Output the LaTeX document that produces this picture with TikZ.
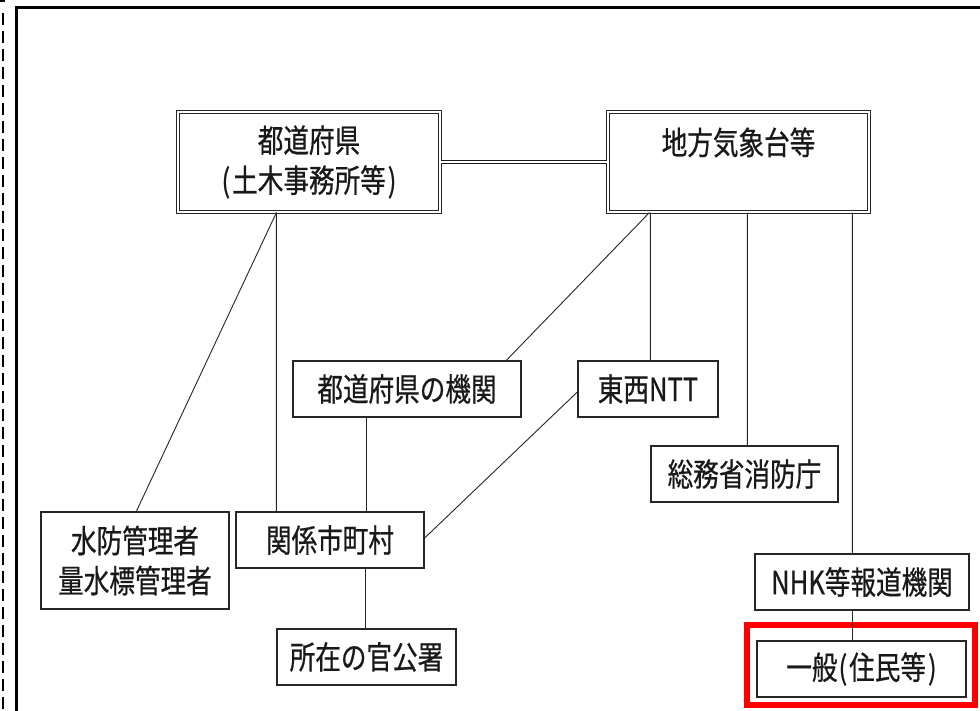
\documentclass[tikz,border=0pt]{standalone}
\usepackage{fontspec}
\newfontfamily\jp[FakeStretch=0.8,FakeBold=0.6]{Noto Sans CJK JP}
\begin{document}
\begin{tikzpicture}[x=1pt,y=-1pt,
  box/.style={draw=black!85, line width=1.3pt, inner sep=0pt, align=center,
    font=\jp\fontsize{32}{40}\selectfont, text=black!90},
  dbox/.style={box, double, double distance=1.6pt, line width=1.2pt},
  link/.style={draw=black!85, line width=0.9pt},
  dlink/.style={draw=black!90, double, double distance=1.6pt, line width=1.3pt}]
\useasboundingbox (0,0) rectangle (980,711);
\clip (0,0) rectangle (980,711);
\fill[white] (0,0) rectangle (980,711);
% frame
\draw[line width=3pt] (16,720) -- (16,7.5) -- (995,7.5);
\draw[line width=1.2pt, dash pattern=on 12pt off 6pt] (3,13) -- (3,711);
\draw[line width=2pt] (0,1) -- (5,1);
% nodes
\node[dbox, minimum width=262, minimum height=100] (pref) at (309,162) {都道府県\\(\kern2pt 土木事務所等\kern2pt)};
\node[dbox, minimum width=261, minimum height=100] (jma) at (738.5,162) {地方気象台等\\\phantom{地}};
\node[box, minimum width=228, minimum height=56] (prefOrg) at (407,389) {都道府県の機関};
\node[box, minimum width=140, minimum height=56] (ntt) at (648,389) {東西NTT};
\node[box, minimum width=187, minimum height=56] (fdma) at (744.5,474) {総務省消防庁};
\node[box, minimum width=188, minimum height=97] (suibo) at (135,560.5) {水防管理者\\量水標管理者};
\node[box, minimum width=188, minimum height=56] (town) at (330,540) {関係市町村};
\node[box, minimum width=179, minimum height=56] (office) at (366.5,657) {所在の官公署};
\node[box, minimum width=214, minimum height=56] (nhk) at (862,582) {NHK等報道機関};
\node[box, minimum width=209, minimum height=56] (pub) at (861.5,669) {一般\kern1pt(\kern2pt 住民等\kern2pt)};
\node[draw=red, line width=6pt, minimum width=228, minimum height=80, inner sep=0pt] (hl) at (861,665) {};
% connectors
\draw[dlink] (pref.east) -- (jma.west);
\draw[link] ([xshift=99pt]pref.south west) -- ([xshift=96pt]suibo.north west);
\draw[link] ([xshift=99pt]pref.south west) -- ([xshift=41pt]town.north west);
\draw[link] ([xshift=42pt]jma.south west) -- ([xshift=214pt]prefOrg.north west);
\draw[link] ([xshift=43pt]jma.south west) -- ([xshift=73pt]ntt.north west);
\draw[link] ([xshift=140pt]jma.south west) -- ([xshift=97pt]fdma.north west);
\draw[link] ([xshift=245pt]jma.south west) -- ([xshift=98pt]nhk.north west);
\draw[link] ([xshift=74pt]prefOrg.south west) -- ([xshift=131pt]town.north west);
\draw[link] ([yshift=-3pt]ntt.west) -- ([yshift=2pt]town.east);
\draw[link] ([xshift=130pt]town.south west) -- ([xshift=89pt]office.north west);
\draw[link] ([xshift=98pt]nhk.south west) -- ([xshift=96pt]pub.north west);
\end{tikzpicture}
\end{document}
